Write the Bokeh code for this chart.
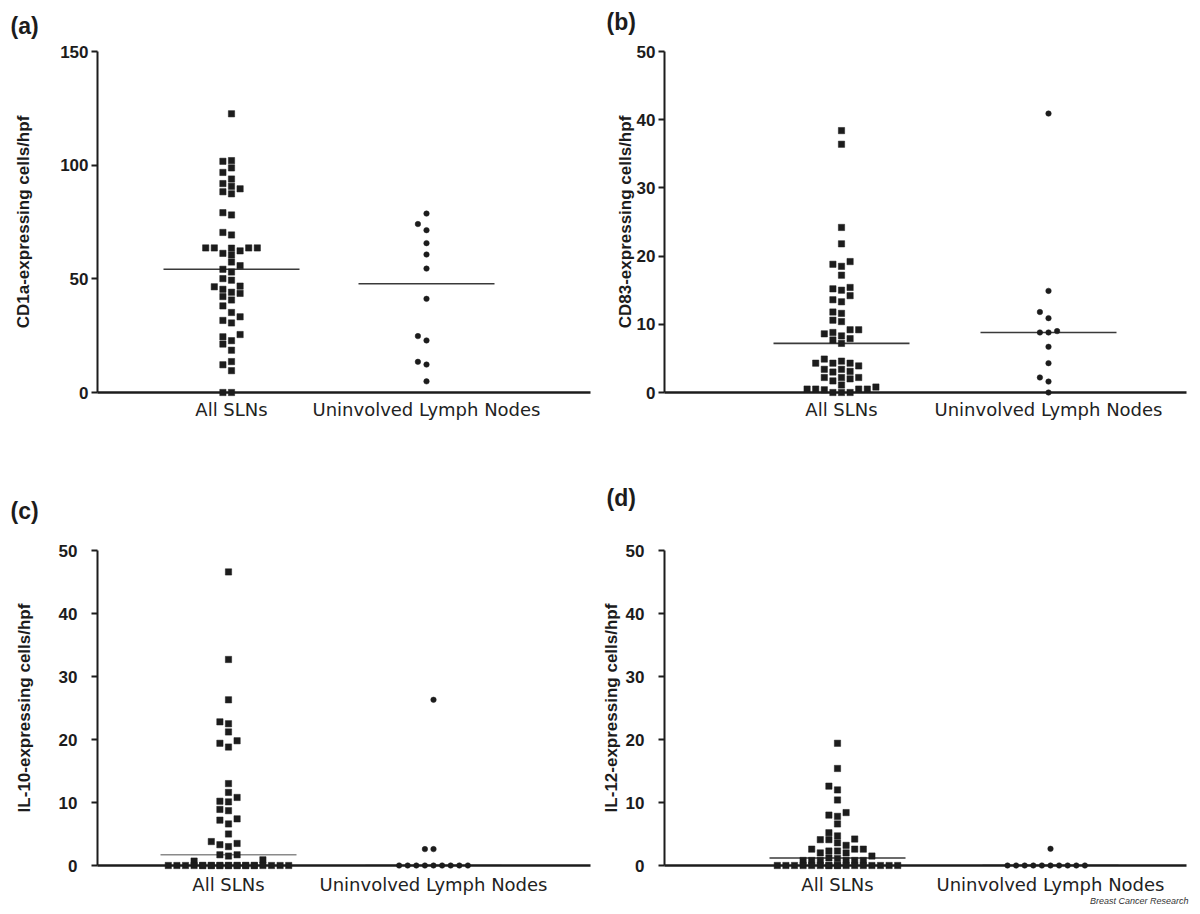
import numpy as np
from bokeh.plotting import figure
from bokeh.layouts import column, row
from bokeh.models import FixedTicker
from bokeh.core.properties import value
from bokeh.embed import file_html
from bokeh.resources import INLINE

# ---------------- data ----------------
categories = ["All SLNs", "Uninvolved Lymph Nodes"]
panel_letters = ["(a)", "(b)", "(c)", "(d)"]
y_titles = ["CD1a-expressing cells/hpf", "CD83-expressing cells/hpf",
            "IL-10-expressing cells/hpf", "IL-12-expressing cells/hpf"]
y_max = [150, 50, 50, 50]
y_ticks_a = [0, 50, 100, 150]
y_ticks_bcd = [0, 10, 20, 30, 40, 50]
caption = "Breast Cancer Research"

cd1a_sln = [122.6, 102.0, 101.7, 98.8, 96.8, 93.9, 91.9, 90.7, 89.6, 88.3, 87.4,
            79.1, 78.1, 70.4, 69.3, 63.6, 63.6, 62.3, 61.2, 63.5, 60.5, 63.6, 63.6,
            57.4, 55.8, 54.2, 53.0, 49.4, 50.1, 46.5, 46.8, 45.4, 43.6, 44.1, 42.2,
            40.7, 38.1, 35.2, 31.7, 33.3, 30.6, 25.5, 22.8, 24.5, 21.3, 18.6, 12.2,
            13.6, 9.6, 0, 0]
cd1a_unin = [78.7, 74.1, 71.4, 65.7, 60.7, 54.5, 41.2, 24.8, 22.9, 13.5, 12.3, 4.9]

cd83_sln = [38.4, 36.4, 24.2, 21.8, 19.2, 18.8, 18.5, 17.2, 15.2, 15.0, 15.4, 14.2,
            13.3, 13.6, 11.6, 11.8, 10.4, 10.6, 9.2, 8.6, 7.9, 8.3, 8.8, 7.7, 9.2,
            7.2, 4.9, 4.3, 3.9, 4.3, 4.3, 4.6, 3.1, 3.0, 3.4, 3.4, 2.2, 2.0, 1.7,
            2.2, 2.2, 0.8, 0.5, 0.4, 0, 0, 0, 0.5, 0.5, 0.5, 1.1]
cd83_unin = [40.9, 14.9, 11.8, 10.9, 9.0, 8.8, 8.8, 6.7, 4.3, 2.2, 1.6, 0]

il10_sln = [46.6, 32.7, 26.3, 22.8, 22.5, 21.2, 19.4, 18.8, 19.8, 13.0, 11.6, 10.8,
            10.1, 10.2, 8.9, 8.7, 7.4, 6.6, 7.2, 5.0, 3.5, 3.0, 3.3, 3.8, 1.7, 1.5,
            1.7, 0.9, 0.7] + [0] * 22
il10_unin = [26.3, 2.6, 2.6] + [0] * 9

il12_sln = [19.4, 15.4, 12.6, 12.0, 10.4, 8.4, 8.0, 7.8, 6.6, 5.2, 4.2, 4.1, 4.7,
            3.6, 4.1, 3.2, 2.6, 2.6, 2.3, 2.0, 2.0, 2.3, 2.6, 1.5, 1.2, 1.1,
            0.8, 0.8, 0.8, 0.8, 0.8, 0.8] + [0] * 17
il12_unin = [2.65] + [0] * 10

sln_sets = [cd1a_sln, cd83_sln, il10_sln, il12_sln]
unin_sets = [cd1a_unin, cd83_unin, il10_unin, il12_unin]
tick_sets = [y_ticks_a, y_ticks_bcd, y_ticks_bcd, y_ticks_bcd]

# ---------------- layout (page pixels) ----------------
layout_cfg = [
    dict(ox=0, oy=0, w=592, h=449, fl=97, fr=590, ft=47, fb=392, c1=231, c2=426,
         lx=10, ly=21, lab_standoff=24, tick_standoff=3, cat_standoff=6, med_col="#3a3a3a"),
    dict(ox=592, oy=0, w=598, h=449, fl=664, fr=1186, ft=51, fb=392, c1=841, c2=1048,
         lx=606, ly=21, lab_standoff=-1, tick_standoff=3, cat_standoff=6, med_col="#3a3a3a"),
    dict(ox=0, oy=449, w=592, h=457, fl=97, fr=590, ft=538, fb=865, c1=228, c2=433,
         lx=10, ly=497, lab_standoff=22, tick_standoff=14, cat_standoff=8, med_col="#8a8a8a"),
    dict(ox=592, oy=449, w=598, h=457, fl=664, fr=1186, ft=550, fb=865, c1=837, c2=1050,
         lx=606, ly=497, lab_standoff=2, tick_standoff=14, cat_standoff=8, med_col="#3a3a3a"),
]

INK = "#1c1c1c"


def swarm(vals, step, thr, kmax):
    vals = np.asarray(vals, dtype=float)
    order = np.argsort(vals, kind="stable")
    cands = [0.0]
    for k in range(1, kmax + 1):
        cands += [-float(k), float(k)]
    halves = []
    for k in range(kmax):
        halves += [-(k + 0.5), k + 0.5]
    placed = []
    offs = np.zeros(len(vals))
    for i in order:
        v = vals[i]
        chosen = None
        for c in cands:
            if all(not (po == c and abs(pv - v) < thr) for po, pv in placed):
                chosen = c
                break
        if chosen is None:
            best = None
            for c in halves + cands:
                n = sum(1 for po, pv in placed if abs(po - c) < 0.9 and abs(pv - v) < thr)
                if best is None or n < best[0]:
                    best = (n, c)
            chosen = best[1]
        placed.append((chosen, v))
        offs[i] = chosen * step
    return offs


def make_panel(i):
    cfg = layout_cfg[i]
    s = cfg["c2"] - cfg["c1"]
    x0 = 1 - (cfg["c1"] - cfg["fl"]) / s
    x1 = x0 + (cfg["fr"] - cfg["fl"]) / s
    ymax = y_max[i]
    pxu_y = (cfg["fb"] - cfg["ft"]) / ymax

    p = figure(width=cfg["w"], height=cfg["h"], output_backend="svg", toolbar_location=None,
               x_range=(x0, x1), y_range=(0, ymax),
               min_border_left=cfg["fl"] - cfg["ox"],
               min_border_right=cfg["ox"] + cfg["w"] - cfg["fr"],
               min_border_top=cfg["ft"] - cfg["oy"],
               min_border_bottom=cfg["oy"] + cfg["h"] - cfg["fb"])
    p.outline_line_color = None
    p.grid.visible = False
    p.background_fill_color = "white"
    p.border_fill_color = "white"

    # y axis
    yax = p.yaxis[0]
    yax.ticker = FixedTicker(ticks=tick_sets[i])
    yax.axis_line_width = 2
    yax.axis_line_color = INK
    yax.major_tick_line_width = 2
    yax.major_tick_line_color = INK
    yax.major_tick_out = 6
    yax.major_tick_in = 0
    yax.minor_tick_line_color = None
    yax.major_label_text_font = "Liberation Sans"
    yax.major_label_text_font_style = "bold"
    yax.major_label_text_font_size = "17px"
    yax.major_label_text_color = INK
    yax.major_label_standoff = cfg["tick_standoff"]
    yax.axis_label = y_titles[i]
    yax.axis_label_text_font = "Liberation Sans"
    yax.axis_label_text_font_style = "bold"
    yax.axis_label_text_font_size = "17px"
    yax.axis_label_text_color = INK
    yax.axis_label_standoff = cfg["lab_standoff"]

    # x axis
    xax = p.xaxis[0]
    xax.ticker = FixedTicker(ticks=[1, 2])
    xax.major_label_overrides = {1: categories[0], 2: categories[1]}
    xax.axis_line_width = 2.5
    xax.axis_line_color = INK
    xax.major_tick_line_color = None
    xax.major_tick_out = 0
    xax.major_tick_in = 0
    xax.minor_tick_line_color = None
    xax.major_label_text_font = "DejaVu Sans"
    xax.major_label_text_font_size = "18px"
    xax.major_label_text_color = "#222222"
    xax.major_label_standoff = cfg["cat_standoff"]

    step = 8.6 / s
    thr = 6.8 / pxu_y
    sln = np.asarray(sln_sets[i], dtype=float)
    unin = np.asarray(unin_sets[i], dtype=float)

    # medians
    hw = 68 / s
    for c, vals in ((1, sln), (2, unin)):
        m = float(np.median(vals))
        p.segment(x0=[c - hw], x1=[c + hw], y0=[m], y1=[m],
                  line_color=cfg["med_col"], line_width=1.6)

    xs = 1 + swarm(sln, step, thr, 7)
    r1 = p.scatter(xs, sln, marker="square", size=6.3, fill_color=INK, line_color=INK,
                   line_width=0.5)
    xu = 2 + swarm(unin, step, thr, 6)
    r2 = p.scatter(xu, unin, marker="circle", size=5.5, fill_color=INK, line_color=INK,
                   line_width=0.5)
    r1.level = "overlay"
    r2.level = "overlay"

    # panel letter (text glyph at overlay level so it can sit outside the frame)
    lx = x0 + (cfg["lx"] - cfg["fl"]) / s
    ly = (cfg["fb"] - cfg["ly"]) / pxu_y
    t = p.text(x=[lx], y=[ly], text=[panel_letters[i]], text_font=value("Liberation Sans"),
               text_font_style="bold", text_font_size="23px", text_color=INK,
               text_baseline="middle", text_align="left")
    t.level = "overlay"
    if i == 3:
        cx = x0 + (1188 - cfg["fl"]) / s
        cy = (cfg["fb"] - 900) / pxu_y
        t2 = p.text(x=[cx], y=[cy], text=[caption], text_font=value("Liberation Sans"),
                    text_font_style="italic", text_font_size="9px", text_color="#333333",
                    text_baseline="middle", text_align="right")
        t2.level = "overlay"
    return p


panels = [make_panel(i) for i in range(4)]
layout = column(row(panels[0], panels[1]), row(panels[2], panels[3]))

open("out.html", "w").write(file_html(layout, INLINE))
